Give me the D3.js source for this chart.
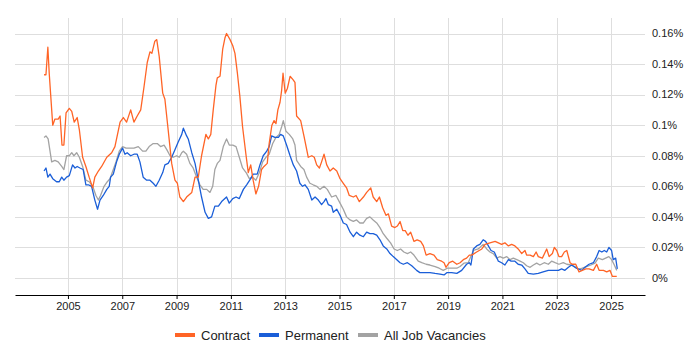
<!DOCTYPE html>
<html>
<head>
<meta charset="utf-8">
<script src="https://cdn.jsdelivr.net/npm/d3@7/dist/d3.min.js"></script>
<style>
  html, body { margin: 0; padding: 0; background: #fff; }
  svg { display: block; font-family: "Liberation Sans", Arial, sans-serif; }
</style>
</head>
<body>
<svg id="chart" width="700" height="350"></svg>
<script>
// ---- data (values in %) ----
const seriesNames = ["Contract", "Permanent", "All Job Vacancies"];
const xTickYears = [2005, 2007, 2009, 2011, 2013, 2015, 2017, 2019, 2021, 2023, 2025];
const yTickValues = [0, 0.02, 0.04, 0.06, 0.08, 0.10, 0.12, 0.14, 0.16];
const yTickLabels = ["0%", "0.02%", "0.04%", "0.06%", "0.08%", "0.1%", "0.12%", "0.14%", "0.16%"];

const contractYears = [2004.12,2004.19,2004.26,2004.31,2004.44,2004.52,2004.64,2004.71,2004.78,2004.85,2004.93,2005.05,2005.14,2005.23,2005.34,2005.42,2005.54,2005.66,2005.78,2005.91,2005.99,2006.12,2006.24,2006.43,2006.61,2006.73,2006.92,2007.04,2007.16,2007.31,2007.43,2007.55,2007.68,2007.80,2007.92,2008.02,2008.09,2008.20,2008.27,2008.36,2008.49,2008.57,2008.69,2008.82,2008.94,2009.03,2009.12,2009.25,2009.37,2009.56,2009.68,2009.80,2009.92,2010.08,2010.17,2010.26,2010.35,2010.45,2010.50,2010.60,2010.70,2010.78,2010.84,2010.97,2011.07,2011.15,2011.24,2011.33,2011.43,2011.56,2011.64,2011.73,2011.82,2011.92,2012.02,2012.13,2012.22,2012.34,2012.41,2012.51,2012.59,2012.66,2012.73,2012.81,2012.87,2012.92,2013.00,2013.08,2013.18,2013.28,2013.36,2013.42,2013.57,2013.69,2013.85,2013.98,2014.07,2014.16,2014.26,2014.34,2014.43,2014.53,2014.65,2014.77,2014.90,2015.02,2015.14,2015.26,2015.36,2015.51,2015.61,2015.73,2015.88,2016.00,2016.15,2016.24,2016.37,2016.47,2016.59,2016.71,2016.80,2016.92,2017.04,2017.13,2017.23,2017.33,2017.42,2017.52,2017.62,2017.74,2017.86,2017.99,2018.09,2018.19,2018.33,2018.48,2018.60,2018.76,2018.85,2018.92,2019.04,2019.17,2019.32,2019.44,2019.56,2019.68,2019.78,2019.87,2020.05,2020.24,2020.36,2020.54,2020.73,2020.85,2020.97,2021.09,2021.22,2021.34,2021.46,2021.58,2021.71,2021.83,2021.89,2022.02,2022.14,2022.24,2022.32,2022.47,2022.63,2022.72,2022.84,2022.91,2023.00,2023.08,2023.18,2023.28,2023.37,2023.49,2023.57,2023.70,2023.82,2023.94,2024.07,2024.19,2024.35,2024.47,2024.56,2024.72,2024.84,2024.96,2025.05,2025.21];
const contractValues = [0.133,0.133,0.151,0.134,0.100,0.104,0.104,0.106,0.087,0.087,0.108,0.111,0.109,0.102,0.105,0.097,0.079,0.073,0.066,0.059,0.066,0.070,0.073,0.079,0.082,0.086,0.102,0.105,0.102,0.110,0.102,0.106,0.110,0.125,0.141,0.148,0.147,0.155,0.156,0.145,0.121,0.117,0.097,0.075,0.064,0.062,0.053,0.050,0.053,0.056,0.066,0.066,0.080,0.094,0.091,0.094,0.110,0.126,0.131,0.132,0.150,0.157,0.160,0.156,0.152,0.147,0.134,0.119,0.099,0.080,0.069,0.074,0.064,0.055,0.060,0.071,0.073,0.075,0.088,0.100,0.103,0.101,0.110,0.115,0.123,0.134,0.121,0.124,0.132,0.130,0.128,0.106,0.103,0.093,0.079,0.080,0.079,0.074,0.072,0.076,0.081,0.074,0.070,0.072,0.070,0.065,0.062,0.059,0.054,0.053,0.054,0.050,0.053,0.056,0.059,0.053,0.050,0.053,0.046,0.041,0.042,0.034,0.033,0.034,0.037,0.031,0.031,0.028,0.030,0.024,0.025,0.024,0.021,0.015,0.016,0.015,0.012,0.011,0.010,0.007,0.010,0.011,0.009,0.010,0.012,0.013,0.015,0.015,0.017,0.019,0.022,0.023,0.024,0.023,0.022,0.023,0.021,0.022,0.021,0.019,0.016,0.018,0.015,0.015,0.014,0.017,0.014,0.013,0.019,0.014,0.016,0.020,0.018,0.014,0.014,0.017,0.018,0.010,0.009,0.009,0.004,0.005,0.006,0.006,0.005,0.009,0.005,0.005,0.004,0.005,0.001,0.001];

const permanentYears = [2004.12,2004.19,2004.26,2004.34,2004.44,2004.58,2004.68,2004.77,2004.85,2004.95,2005.05,2005.17,2005.26,2005.34,2005.44,2005.56,2005.66,2005.75,2005.87,2005.99,2006.09,2006.18,2006.30,2006.43,2006.52,2006.57,2006.67,2006.79,2006.89,2007.01,2007.10,2007.18,2007.31,2007.43,2007.55,2007.65,2007.77,2007.90,2008.02,2008.14,2008.24,2008.36,2008.49,2008.57,2008.69,2008.82,2008.94,2009.06,2009.19,2009.25,2009.37,2009.43,2009.56,2009.68,2009.80,2009.92,2010.05,2010.17,2010.29,2010.41,2010.54,2010.66,2010.84,2010.94,2011.07,2011.19,2011.31,2011.46,2011.58,2011.73,2011.82,2011.97,2012.07,2012.19,2012.32,2012.41,2012.50,2012.62,2012.75,2012.83,2012.93,2013.05,2013.18,2013.30,2013.42,2013.54,2013.64,2013.73,2013.85,2013.98,2014.10,2014.22,2014.34,2014.43,2014.50,2014.59,2014.71,2014.77,2014.90,2015.02,2015.14,2015.26,2015.39,2015.51,2015.63,2015.75,2015.88,2016.00,2016.12,2016.24,2016.37,2016.49,2016.61,2016.74,2016.86,2016.98,2017.11,2017.23,2017.35,2017.50,2017.66,2017.84,2017.96,2018.15,2018.33,2018.52,2018.70,2018.85,2018.95,2019.13,2019.32,2019.50,2019.68,2019.78,2019.84,2019.93,2020.05,2020.17,2020.29,2020.38,2020.45,2020.58,2020.70,2020.85,2020.97,2021.09,2021.22,2021.32,2021.46,2021.58,2021.71,2021.83,2021.95,2022.14,2022.32,2022.50,2022.69,2022.87,2023.06,2023.18,2023.30,2023.43,2023.55,2023.67,2023.79,2023.92,2024.04,2024.19,2024.35,2024.47,2024.56,2024.66,2024.75,2024.84,2024.92,2025.02,2025.08,2025.17,2025.23];
const permanentValues = [0.070,0.072,0.066,0.068,0.065,0.063,0.063,0.066,0.064,0.066,0.067,0.074,0.072,0.073,0.072,0.071,0.061,0.061,0.060,0.051,0.045,0.051,0.054,0.058,0.060,0.066,0.068,0.076,0.081,0.085,0.081,0.082,0.080,0.081,0.081,0.076,0.066,0.064,0.064,0.062,0.060,0.064,0.069,0.074,0.075,0.079,0.084,0.089,0.094,0.098,0.093,0.091,0.082,0.075,0.064,0.053,0.043,0.039,0.040,0.047,0.047,0.050,0.053,0.049,0.052,0.053,0.052,0.058,0.061,0.065,0.068,0.068,0.074,0.080,0.083,0.086,0.093,0.092,0.092,0.094,0.093,0.087,0.080,0.074,0.070,0.062,0.060,0.061,0.058,0.051,0.053,0.051,0.048,0.050,0.052,0.048,0.047,0.043,0.045,0.041,0.036,0.035,0.030,0.027,0.030,0.028,0.027,0.030,0.029,0.029,0.028,0.025,0.021,0.019,0.016,0.014,0.012,0.010,0.009,0.010,0.008,0.005,0.0035,0.0035,0.0035,0.003,0.0026,0.002,0.0035,0.0035,0.003,0.005,0.009,0.010,0.0085,0.019,0.021,0.022,0.025,0.024,0.022,0.018,0.017,0.011,0.010,0.0085,0.012,0.011,0.011,0.009,0.0085,0.006,0.003,0.0026,0.003,0.004,0.005,0.005,0.005,0.006,0.005,0.007,0.0085,0.007,0.006,0.005,0.007,0.009,0.010,0.014,0.018,0.017,0.018,0.017,0.020,0.018,0.012,0.013,0.006];

const allYears = [2004.12,2004.19,2004.27,2004.40,2004.52,2004.64,2004.77,2004.85,2004.95,2005.05,2005.14,2005.22,2005.32,2005.42,2005.54,2005.66,2005.78,2005.91,2006.03,2006.12,2006.20,2006.33,2006.45,2006.55,2006.65,2006.77,2006.89,2007.01,2007.14,2007.28,2007.43,2007.59,2007.75,2007.87,2007.99,2008.14,2008.29,2008.41,2008.54,2008.64,2008.76,2008.88,2009.00,2009.10,2009.19,2009.25,2009.37,2009.49,2009.61,2009.74,2009.86,2009.98,2010.11,2010.23,2010.33,2010.41,2010.50,2010.60,2010.72,2010.84,2010.94,2011.07,2011.19,2011.31,2011.43,2011.56,2011.68,2011.80,2011.92,2012.05,2012.17,2012.29,2012.41,2012.54,2012.66,2012.78,2012.87,2012.93,2013.03,2013.15,2013.28,2013.36,2013.42,2013.57,2013.69,2013.79,2013.91,2014.03,2014.16,2014.28,2014.43,2014.55,2014.71,2014.87,2015.02,2015.14,2015.26,2015.39,2015.51,2015.63,2015.75,2015.88,2016.00,2016.12,2016.24,2016.37,2016.49,2016.61,2016.74,2016.88,2017.01,2017.13,2017.25,2017.37,2017.50,2017.62,2017.74,2017.90,2018.03,2018.19,2018.33,2018.52,2018.67,2018.82,2018.97,2019.13,2019.32,2019.44,2019.58,2019.74,2019.93,2020.11,2020.29,2020.42,2020.54,2020.66,2020.79,2020.91,2021.03,2021.16,2021.28,2021.40,2021.53,2021.65,2021.77,2021.89,2022.02,2022.14,2022.26,2022.38,2022.54,2022.69,2022.81,2022.94,2023.08,2023.24,2023.37,2023.53,2023.67,2023.79,2023.94,2024.10,2024.26,2024.41,2024.53,2024.68,2024.80,2024.92,2025.02,2025.12,2025.21];
const allValues = [0.092,0.093,0.091,0.076,0.077,0.076,0.073,0.071,0.080,0.080,0.082,0.080,0.082,0.079,0.073,0.064,0.063,0.060,0.054,0.051,0.054,0.060,0.063,0.065,0.070,0.076,0.083,0.086,0.085,0.085,0.085,0.086,0.083,0.083,0.086,0.088,0.088,0.086,0.087,0.084,0.080,0.079,0.080,0.079,0.082,0.083,0.081,0.075,0.072,0.066,0.061,0.058,0.058,0.056,0.060,0.071,0.075,0.077,0.086,0.091,0.087,0.087,0.086,0.079,0.072,0.069,0.065,0.066,0.064,0.069,0.076,0.079,0.081,0.088,0.092,0.094,0.099,0.103,0.096,0.094,0.091,0.087,0.077,0.073,0.071,0.066,0.062,0.061,0.060,0.058,0.060,0.058,0.053,0.054,0.049,0.045,0.040,0.038,0.037,0.038,0.036,0.036,0.039,0.040,0.038,0.036,0.033,0.029,0.026,0.023,0.019,0.018,0.019,0.017,0.016,0.017,0.015,0.011,0.010,0.009,0.0085,0.0075,0.0064,0.005,0.0064,0.0064,0.0064,0.0075,0.0097,0.010,0.018,0.019,0.022,0.019,0.017,0.016,0.013,0.014,0.013,0.014,0.012,0.013,0.012,0.011,0.010,0.008,0.007,0.0085,0.0097,0.0085,0.010,0.009,0.011,0.010,0.009,0.010,0.009,0.0085,0.0075,0.0057,0.0064,0.0075,0.0085,0.0097,0.013,0.012,0.013,0.014,0.012,0.0085,0.005];

const seriesColors = ["#ff6426", "#1a5ed8", "#a3a3a3"];

// ---- chart ----
const svg = d3.select("#chart");
const x = d3.scaleLinear().domain([2003.05, 2026.25]).range([15, 645]);
const y = d3.scaleLinear().domain([0, 0.16]).range([278, 33.5]);
const plotTop = 18, axisY = 295;

// horizontal gridlines
svg.append("g").selectAll("line").data(yTickValues).join("line")
  .attr("x1", 15).attr("x2", 645)
  .attr("y1", d => Math.round(y(d)) + 0.5).attr("y2", d => Math.round(y(d)) + 0.5)
  .attr("stroke", "#dedede").attr("stroke-width", 1);

// vertical gridlines
svg.append("g").selectAll("line").data(xTickYears).join("line")
  .attr("x1", d => Math.round(x(d)) + 0.5).attr("x2", d => Math.round(x(d)) + 0.5)
  .attr("y1", plotTop).attr("y2", axisY)
  .attr("stroke", "#dedede").attr("stroke-width", 1);

// y labels (right side)
svg.append("g").selectAll("text").data(yTickValues).join("text")
  .attr("x", 652).attr("y", d => y(d))
  .attr("dy", "0.35em")
  .attr("font-size", 11).attr("fill", "#222")
  .text((d, i) => yTickLabels[i]);

// x axis
const xAxis = d3.axisBottom(x).tickValues(xTickYears).tickFormat(d3.format("d"))
  .tickSize(4).tickSizeOuter(0).tickPadding(3);
const gx = svg.append("g").attr("transform", `translate(0,${axisY})`).call(xAxis);
gx.select(".domain").attr("stroke", "#000");
gx.selectAll(".tick line").attr("stroke", "#000");
gx.selectAll(".tick text").attr("font-size", 11).attr("fill", "#222")
  .attr("font-family", "'Liberation Sans', Arial, sans-serif");

// lines
const line = d3.line().x(d => x(d[0])).y(d => y(d[1]));
const series = [
  { years: allYears, values: allValues, color: seriesColors[2] },
  { years: permanentYears, values: permanentValues, color: seriesColors[1] },
  { years: contractYears, values: contractValues, color: seriesColors[0] }
];
series.forEach(s => {
  const pts = s.years.map((yr, i) => [yr, s.values[i]]);
  svg.append("path").datum(pts)
    .attr("fill", "none").attr("stroke", s.color)
    .attr("stroke-width", 1.3).attr("stroke-linejoin", "round")
    .attr("d", line);
});

// legend
const legendItems = [
  { name: seriesNames[0], color: seriesColors[0], x: 175 },
  { name: seriesNames[1], color: seriesColors[1], x: 259 },
  { name: seriesNames[2], color: seriesColors[2], x: 358 }
];
const lg = svg.append("g");
legendItems.forEach(it => {
  lg.append("rect").attr("x", it.x).attr("y", 333).attr("width", 20).attr("height", 4)
    .attr("fill", it.color);
  lg.append("text").attr("x", it.x + 26).attr("y", 335).attr("dy", "0.35em")
    .attr("font-size", 13).attr("fill", "#222").text(it.name);
});
</script>
</body>
</html>
